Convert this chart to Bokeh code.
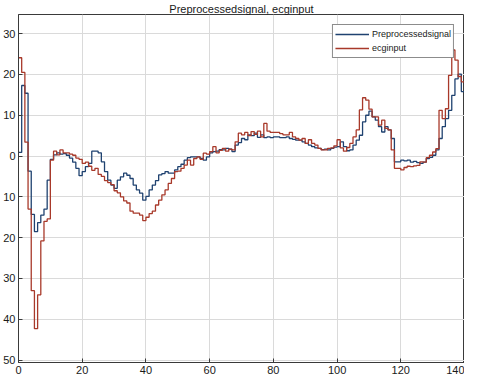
from bokeh.plotting import figure
from bokeh.models import Range1d, LinearAxis, FixedTicker, Legend, LegendItem
from bokeh.embed import file_html
from bokeh.resources import INLINE

title_text = "Preprocessedsignal, ecginput"
series_names = ["Preprocessedsignal", "ecginput"]

x_values = list(range(0, 141))

preprocessed = [
    0.9, 17.3, 15.4, -3.7, -14.3, -18.5, -16.3, -14.5, -13.0, -5.9,
    -0.8, 0.3, 0.8, 0.5, 0.6, 0.2, -0.5, -1.5, -3.0, -4.8,
    -3.8, -2.6, -1.8, 1.2, 1.2, 0.8, -1.4, -3.8, -5.9, -7.1,
    -7.9, -5.9, -5.1, -4.2, -4.7, -5.5, -7.1, -8.3, -9.1, -10.8,
    -9.9, -8.3, -7.1, -6.0, -4.6, -4.3, -3.8, -4.2, -4.2, -3.4,
    -2.6, -2.0, -1.0, -0.4, -0.2, -0.2, -0.2, -0.6, -1.0, -0.2,
    0.8, 1.1, 1.2, 1.6, 1.5, 1.9, 1.7, 1.1, 2.7, 3.3,
    4.3, 4.0, 5.2, 5.0, 5.6, 4.6, 5.2, 4.5, 4.7, 4.5,
    4.7, 4.7, 4.5, 4.5, 4.7, 4.3, 4.1, 3.9, 3.9, 3.5,
    3.1, 2.7, 2.3, 2.0, 1.9, 1.6, 1.7, 1.5, 1.9, 2.2,
    2.3, 3.5, 2.3, 1.3, 1.5, 2.7, 3.9, 5.1, 8.4, 10.0,
    11.0, 9.6, 8.8, 7.2, 5.9, 7.2, 6.4, 4.3, -1.4, -1.4,
    -1.0, -1.2, -1.0, -1.5, -1.3, -1.6, -1.8, -1.5, -0.6, -0.3,
    0.2, 1.5, 4.3, 7.2, 9.2, 11.2, 14.9, 18.9, 20.1, 15.8,
    15.8,
]

ecginput = [
    24.1, 20.5, 3.4, -13.0, -33.0, -42.3, -34.0, -20.8, -16.0, -15.4,
    -1.0, 1.2, 0.3, 1.5, 0.8, 0.8, 0.5, 0.2, -0.5, -0.8,
    -1.8, -1.5, -2.5, -3.5, -3.0, -4.5, -5.0, -6.0, -6.5, -7.0,
    -8.5, -9.0, -10.0, -11.0, -11.5, -13.5, -14.0, -14.0, -14.5, -15.8,
    -15.0, -14.1, -13.5, -12.0, -10.8, -9.5, -8.3, -6.7, -5.5, -3.8,
    -3.7, -3.0, -2.2, -1.0, -2.2, -0.6, -0.2, -0.8, 0.7, 0.5,
    1.1, 2.3, 0.8, 1.4, 1.9, 1.2, 1.7, 1.5, 3.5, 5.6,
    5.2, 5.8, 5.0, 6.0, 5.3, 6.1, 4.7, 8.0, 6.1, 5.8,
    5.8, 5.8, 5.5, 5.2, 5.2, 5.8, 4.7, 4.3, 3.9, 4.3,
    3.1, 4.0, 3.1, 2.7, 1.9, 1.5, 1.5, 1.9, 2.0, 2.5,
    4.0, 2.0, 1.2, 2.1, 3.1, 4.7, 6.4, 11.3, 14.3, 13.7,
    11.5, 9.6, 9.6, 7.6, 8.8, 6.8, 6.4, 1.5, -3.0, -3.0,
    -3.4, -2.8, -2.5, -2.6, -2.4, -2.3, -1.4, -1.5, -0.4, 0.2,
    1.0, 1.8, 11.2, 9.2, 11.6, 19.8, 26.0, 23.5, 19.5, 18.2,
    18.2,
]

x_ticks = [0, 20, 40, 60, 80, 100, 120, 140]
y_ticks = [-50, -40, -30, -20, -10, 0, 10, 20, 30]
y_tick_labels = {-50: "50", -40: "40", -30: "30", -20: "20", -10: "10",
                 0: "0", 10: "10", 20: "20", 30: "30"}

FONT = "Liberation Sans"
AX = "#3a3a3a"
BLUE = "#1f4270"
RED = "#a8392a"

p = figure(width=464, height=376, output_backend="svg", toolbar_location=None,
           x_range=Range1d(0, 140), y_range=Range1d(-50.6, 34.7),
           x_axis_location=None, y_axis_location=None,
           min_border_left=14, min_border_right=0, min_border_top=0, min_border_bottom=0)

p.title.text = title_text
p.title.align = "center"
p.title.text_font = FONT
p.title.text_font_size = "11px"
p.title.text_font_style = "normal"
p.title.text_color = "#1a1a1a"
p.title.standoff = 0
p.title.offset = 0

p.background_fill_color = "white"
p.border_fill_color = "white"
p.outline_line_color = AX
p.outline_line_width = 1

def mk_axis(ticks, standoff, overrides=None):
    ax = LinearAxis(ticker=FixedTicker(ticks=ticks))
    ax.axis_line_color = AX
    ax.major_tick_line_color = AX
    ax.major_tick_in = 4
    ax.major_tick_out = 0
    ax.minor_tick_line_color = None
    ax.major_label_text_font = FONT
    ax.major_label_text_font_size = "11px"
    ax.major_label_text_color = "#1a1a1a"
    ax.major_label_standoff = standoff
    ax.axis_label_standoff = 0
    if overrides:
        ax.major_label_overrides = overrides
    return ax

p.add_layout(mk_axis(y_ticks, 3, y_tick_labels), "left")
p.add_layout(mk_axis(x_ticks, 3), "below")

p.xgrid.ticker = FixedTicker(ticks=x_ticks)
p.ygrid.ticker = FixedTicker(ticks=y_ticks)
for g in (p.xgrid, p.ygrid):
    g.grid_line_color = "#dadada"
    g.grid_line_width = 1

r1 = p.step(x_values, preprocessed, mode="after", line_color=BLUE, line_width=1.3)
r2 = p.step(x_values, ecginput, mode="after", line_color=RED, line_width=1.3)

legend = Legend(items=[LegendItem(label=series_names[0], renderers=[r1]),
                       LegendItem(label=series_names[1], renderers=[r2])],
                location="top_right")
legend.margin = 10
legend.padding = 2
legend.spacing = 0
legend.glyph_width = 34
legend.glyph_height = 14
legend.label_height = 14
legend.label_standoff = 3
legend.label_text_font = FONT
legend.label_text_font_size = "9px"
legend.label_text_color = "#1a1a1a"
legend.border_line_color = "#1a1a1a"
legend.border_line_width = 1
legend.background_fill_color = "white"
legend.background_fill_alpha = 1
p.add_layout(legend, "center")

open("out.html", "w").write(file_html(p, INLINE))
